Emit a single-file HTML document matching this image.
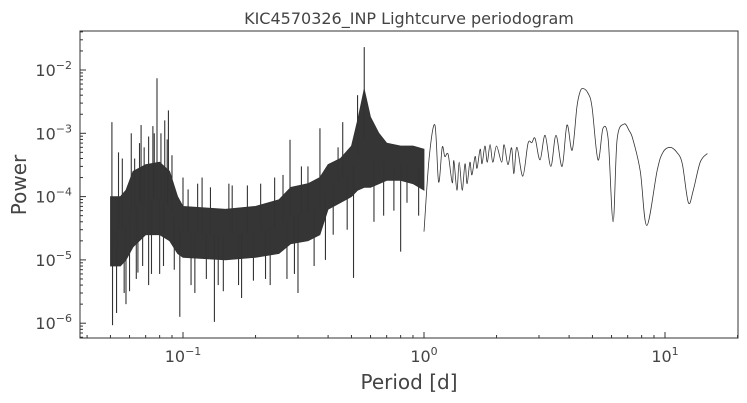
<!DOCTYPE html>
<html><head><meta charset="utf-8"><style>
body{margin:0;background:#fff;}
svg{display:block;font-family:"DejaVu Sans","Liberation Sans",sans-serif;}
</style></head><body>
<svg id="chart" width="747" height="403" viewBox="0 0 747 403"></svg>
<script>
// ---- data ----
const bandPeriods=[0.05,0.055,0.058,0.062,0.07,0.08,0.088,0.095,0.1,0.15,0.2,0.25,0.28,0.33,0.37,0.4,0.45,0.5,0.53,0.565,0.6,0.65,0.7,0.8,0.9,1.0];
const bandHigh=[1e-4,1e-4,1.26e-4,2.5e-4,3.2e-4,3.5e-4,2.5e-4,1e-4,7e-5,6.3e-5,7e-5,8.9e-5,1.4e-4,1.6e-4,2e-4,3.2e-4,4e-4,6.3e-4,1.6e-3,5e-3,1.8e-3,1e-3,7e-4,6.3e-4,6.3e-4,5.6e-4];
const bandLow=[8e-6,8e-6,1e-5,1.6e-5,2.5e-5,2.5e-5,2e-5,1.26e-5,1.1e-5,1e-5,1.1e-5,1.26e-5,1.8e-5,2e-5,2.5e-5,6.3e-5,8e-5,1e-4,1.26e-4,1.4e-4,1.4e-4,1.6e-4,1.8e-4,1.8e-4,1.6e-4,1.26e-4];
const spikePeriods=[0.0507,0.051,0.052,0.053,0.054,0.056,0.057,0.058,0.06,0.061,0.063,0.064,0.065,0.066,0.067,0.068,0.069,0.072,0.072,0.074,0.075,0.076,0.078,0.08,0.081,0.083,0.084,0.086,0.087,0.09,0.092,0.097,0.1,0.105,0.108,0.112,0.115,0.12,0.125,0.13,0.135,0.14,0.147,0.155,0.16,0.17,0.175,0.185,0.196,0.21,0.22,0.23,0.24,0.26,0.27,0.278,0.29,0.3,0.31,0.33,0.35,0.37,0.39,0.42,0.44,0.46,0.48,0.51,0.53,0.565,0.62,0.68,0.75,0.8,0.85,0.95];
const spikePowers=[1.5e-3,9.3e-7,2e-5,1.45e-6,5e-4,4e-4,3e-6,2e-6,3.2e-6,1e-3,4e-4,5e-6,6.3e-6,7e-4,1.35e-3,8e-6,6e-4,8.9e-4,4e-6,6e-6,1.3e-3,1e-3,7.4e-3,6e-6,1e-3,8e-6,1.6e-3,8e-4,2.3e-3,4.5e-4,7e-6,1.26e-6,2e-4,1.3e-4,4e-6,3e-6,1.6e-4,2e-4,5e-6,1.4e-4,1.05e-6,4e-6,3.2e-6,1.6e-4,1.5e-4,4e-6,2.5e-6,1.5e-4,4.7e-6,1.6e-4,5e-6,4e-6,2e-4,2.2e-4,5e-6,7.9e-4,6e-6,3e-6,3e-4,3e-4,8e-6,1.2e-3,1e-5,2.5e-5,6e-4,1.5e-3,3e-5,5.2e-6,4e-3,2.3e-2,4e-5,5e-5,6e-5,1.35e-5,8e-5,5e-5];
const linePeriods=[1.0,1.05,1.11,1.15,1.19,1.22,1.26,1.31,1.33,1.37,1.40,1.44,1.48,1.51,1.55,1.58,1.63,1.66,1.71,1.74,1.79,1.83,1.88,1.93,2.0,2.10,2.15,2.23,2.31,2.36,2.43,2.57,2.70,2.80,2.89,3.03,3.18,3.36,3.53,3.74,3.92,4.12,4.31,4.44,4.57,4.79,4.98,5.27,5.53,5.81,6.09,6.33,6.76,7.1,7.36,7.9,8.4,9.28,9.8,10.5,11.2,11.8,12.5,13.1,14.0,15.0];
const linePowers=[2.8e-5,4e-4,1.35e-3,1.7e-4,6e-4,4.3e-4,4.6e-4,1.65e-4,3.7e-4,1.26e-4,3.5e-4,1.26e-4,3.3e-4,1.6e-4,3.5e-4,2.2e-4,4.3e-4,2.8e-4,5.6e-4,3.3e-4,6.3e-4,3.5e-4,6.6e-4,3.5e-4,6.3e-4,3.5e-4,6.6e-4,3.2e-4,5.9e-4,2.3e-4,6e-4,2.1e-4,6.9e-4,7.1e-4,8.3e-4,3.8e-4,9.3e-4,3e-4,9.3e-4,3e-4,1.35e-3,5.4e-4,2.6e-3,4.5e-3,5.1e-3,4.3e-3,2.6e-3,3.8e-4,1.2e-3,8e-4,4e-5,8e-4,1.4e-3,1.1e-3,8e-4,2.5e-4,3.5e-5,2.6e-4,5e-4,6e-4,5e-4,3.3e-4,8e-5,1.26e-4,3.5e-4,4.8e-4];
const xTickExps=[-1,0,1];
const yTickExps=[-6,-5,-4,-3,-2];

// ---- axes ----
const L=80,R=738,T=31,B=338;
const X=p=>424+241*Math.log10(p);
const Y=v=>70+(-2-Math.log10(v))*63.3;
const svg=document.getElementById('chart');
const NS='http://www.w3.org/2000/svg';
function mk(tag,attrs,parent){const e=document.createElementNS(NS,tag);for(const k in attrs)e.setAttribute(k,attrs[k]);(parent||svg).appendChild(e);return e;}

const title=mk('text',{x:409,y:24,'text-anchor':'middle','font-size':16,fill:'#444'});


title.textContent='KIC4570326_INP Lightcurve periodogram';

const clip=mk('clipPath',{id:'pc'});mk('rect',{x:L,y:T,width:R-L,height:B-T},clip);
const plot=mk('g',{'clip-path':'url(#pc)'});



// band
let d='';
bandPeriods.forEach((p,i)=>{d+=(i?'L':'M')+X(p).toFixed(1)+' '+Y(bandHigh[i]).toFixed(1);});
for(let i=bandPeriods.length-1;i>=0;i--)d+='L'+X(bandPeriods[i]).toFixed(1)+' '+Y(bandLow[i]).toFixed(1);
const band=mk('path',{d:d+'Z',fill:'#353535',stroke:'#333','stroke-width':0.8},plot);



// spikes
function bandAt(p,arr){for(let i=0;i<bandPeriods.length-1;i++){if(p>=bandPeriods[i]&&p<=bandPeriods[i+1]){const t=(Math.log(p)-Math.log(bandPeriods[i]))/(Math.log(bandPeriods[i+1])-Math.log(bandPeriods[i]));return Math.exp(Math.log(arr[i])*(1-t)+Math.log(arr[i+1])*t);}}return arr[0];}
spikePeriods.forEach((p,i)=>{
  const mid=Math.sqrt(bandAt(p,bandHigh)*bandAt(p,bandLow));
  const s=mk('line',{x1:X(p),x2:X(p),y1:Y(mid),y2:Y(spikePowers[i]),stroke:'#333','stroke-width':1.1},plot);
  
  
});
// smooth line (Catmull-Rom through data points)
const pts=linePeriods.map((p,i)=>[X(p),Y(linePowers[i])]);
let d2='M'+pts[0][0].toFixed(1)+' '+pts[0][1].toFixed(1);
for(let i=0;i<pts.length-1;i++){
  const p0=pts[Math.max(0,i-1)],p1=pts[i],p2=pts[i+1],p3=pts[Math.min(pts.length-1,i+2)];
  const c1=[p1[0]+(p2[0]-p0[0])/6,p1[1]+(p2[1]-p0[1])/6];
  const c2=[p2[0]-(p3[0]-p1[0])/6,p2[1]-(p3[1]-p1[1])/6];
  d2+='C'+c1[0].toFixed(1)+' '+c1[1].toFixed(1)+' '+c2[0].toFixed(1)+' '+c2[1].toFixed(1)+' '+p2[0].toFixed(1)+' '+p2[1].toFixed(1);
}
const ln=mk('path',{d:d2,fill:'none',stroke:'#333','stroke-width':0.8,'stroke-linejoin':'round'},plot);



// frame
const fr=mk('rect',{x:L,y:T,width:R-L,height:B-T,fill:'none',stroke:'#333','stroke-width':1});



// x ticks
xTickExps.forEach(e=>{
  const x=X(Math.pow(10,e));
  mk('line',{x1:x,x2:x,y1:B,y2:B-6,stroke:'#333'});
  const t=mk('text',{x:x,y:B+24,'text-anchor':'middle','font-size':16,fill:'#444'});
  
  
  t.textContent='10';
  const s=mk('tspan',{dy:-7,'font-size':11},t);s.textContent=e<0?'\u2212'+(-e):''+e;
});
for(let e=-2;e<=1;e++)for(let m=2;m<=9;m++){const x=X(m*Math.pow(10,e));if(x>L&&x<R)mk('line',{x1:x,x2:x,y1:B,y2:B-3,stroke:'#333'});}
// y ticks
yTickExps.forEach(e=>{
  const y=Y(Math.pow(10,e));
  mk('line',{x1:L,x2:L+6,y1:y,y2:y,stroke:'#333'});
  const t=mk('text',{x:L-8,y:y+6,'text-anchor':'end','font-size':16,fill:'#444'});
  
  
  t.textContent='10';
  const s=mk('tspan',{dy:-7,'font-size':11},t);s.textContent='\u2212'+(-e);
});
for(let e=-7;e<=-2;e++)for(let m=2;m<=9;m++){const y=Y(m*Math.pow(10,e));if(y>T&&y<B)mk('line',{x1:L,x2:L+3,y1:y,y2:y,stroke:'#333'});}

const xl=mk('text',{x:409,y:389,'text-anchor':'middle','font-size':20,fill:'#444'});


xl.textContent='Period [d]';
const yl=mk('text',{x:26,y:185,'text-anchor':'middle','font-size':20,fill:'#444',transform:'rotate(-90 26 185)'});


yl.textContent='Power';
</script>
</body></html>
